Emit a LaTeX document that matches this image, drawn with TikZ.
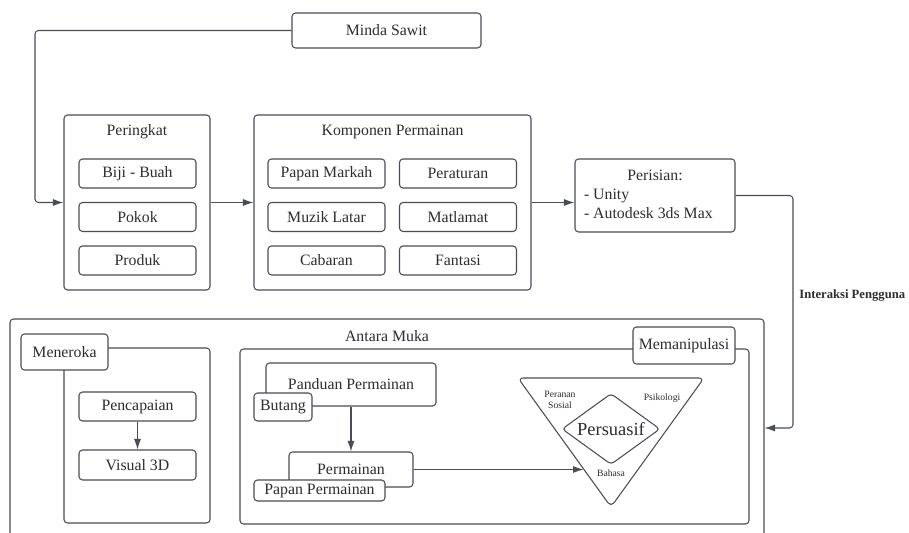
\documentclass[tikz,border=0pt]{standalone}
\usepackage{fontspec}
\setmainfont{Liberation Serif}
\usepackage{tikz}
\usetikzlibrary{arrows.meta,positioning,shapes.geometric}
\definecolor{edge}{RGB}{72,77,86}
\definecolor{ink}{RGB}{45,45,48}

\begin{document}
\begin{tikzpicture}[
    x=0.02cm, y=-0.02cm,
    node distance=0.87cm,
    >={Latex[length=6pt,width=4pt]},
    font=\fontsize{9}{10.8}\selectfont,
    text=ink,
    box/.style={
		rectangle,
		rounded corners=2pt,
		draw=edge,
		line width=0.6pt,
		text centered,
		inner sep=1pt,
		fill=white
	},
    wh/.style 2 args={minimum width=#1*0.02cm, minimum height=#2*0.02cm},
    item/.style={box, wh={117}{29}},
    title/.style={inner sep=0pt},
    tiny/.style={font=\fontsize{5.5}{6.5}\selectfont, align=center, inner sep=0pt},
    link/.style={draw=edge, line width=0.6pt, rounded corners=2pt}
  ]
  \clip (0,0) rectangle (909,533);

  % top row
  \node [box, wh={189}{35}] (minda) at (386.5,30.5) {Minda Sawit};

  \node [box, wh={146}{175}] (peringkat) at (137,202.5) {};
  \node [title] (peringkatT) at (137,132) {Peringkat};
  \node [item] (biji) at (137.5,173.5) {Biji - Buah};
  \node [item, below of=biji] (pokok) {Pokok};
  \node [item, below of=pokok] (produk) {Produk};

  \node [box, wh={277}{175}] (komponen) at (392.5,202.5) {};
  \node [title] (komponenT) at (392.5,132) {Komponen Permainan};
  \node [item] (papan) at (326.5,173.5) {Papan Markah};
  \node [item, below of=papan] (muzik) {Muzik Latar};
  \node [item, below of=muzik] (cabaran) {Cabaran};
  \node [item, right of=papan, xshift=1.76cm] (peraturan) {Peraturan};
  \node [item, below of=peraturan] (matlamat) {Matlamat};
  \node [item, below of=matlamat] (fantasi) {Fantasi};

  \node [box, wh={160}{73}] (perisian) at (655,195.5) {%
 \begin{tabular}{@{}p{2.84cm}@{}}
  \centering Perisian:\tabularnewline
  - Unity\\
  - Autodesk 3ds Max
 \end{tabular}
 };

  % bottom part
  \node [box, wh={754}{226}] (antara) at (387,432) {};
  \node [title] (antaraT) at (387,336) {Antara Muka};

  \node [box, wh={146}{175}] (meneroka) at (137,435.5) {};
  \node [box, wh={87}{36}] (menerokaT) at (64.5,352) {Meneroka};
  \node [item] (pencapaian) at (137.5,406.5) {Pencapaian};
  \node [item, wh={117}{30}] (visual) at (137.5,465) {Visual 3D};

  \node [box, wh={509}{175}] (manipulasi) at (494.5,436.5) {};
  \node [box, wh={102}{37}] (manipulasiT) at (684,345.5) {Memanipulasi};

  \node [box, wh={170}{43}] (panduan) at (351,384.5) {Panduan Permainan};
  \node [box, wh={58}{28}] (butang) at (283,407) {Butang};
  \node [box, wh={124}{35}] (permainan) at (351,469.5) {Permainan};
  \node [box, wh={131}{21}] (papanP) at (319.5,490.5) {Papan Permainan};

  \draw [link, rounded corners=3pt] (518,378) -- (704,378) -- (611,507) -- cycle;
  \path (518,378) -- (611,507) coordinate [pos=0.705] (triL);
  \node [box, diamond, aspect=1.38, inner sep=0pt, wh={98}{71},
         font=\fontsize{10.5}{12}\selectfont] (persuasif) at (611,429) {Persuasif};
  \node [tiny] (peranan) at (560,400) {Peranan\\Sosial};
  \node [tiny] (psikologi) at (662,398) {Psikologi};
  \node [tiny] (bahasa) at (611,473) {Bahasa};

  % connectors
  \coordinate (turnL) at (35,30.5);
  \coordinate (turnR) at (793,428);
  \draw [link,->] (minda.west) -- (turnL) |- (peringkat.west);
  \draw [link,->] (peringkat.east) -- (komponen.west);
  \draw [link,->] (komponen.east) -- (perisian.west |- komponen.east);
  \draw [link,->] (perisian.east) -| (turnR) -- (antara.east |- turnR);
  \node [title, anchor=west, font=\fontsize{7.2}{8}\selectfont\bfseries] (interaksi) at (799,296) {Interaksi Pengguna};
  \draw [link,->] (pencapaian) -- (visual);
  \draw [link,->] (panduan) -- (permainan);
  \draw [link,->] (permainan.east) -- (permainan.east -| triL);

\end{tikzpicture}
\end{document}
